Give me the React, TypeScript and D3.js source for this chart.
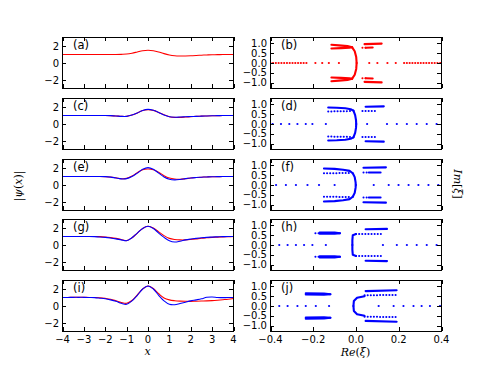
import React from "react";
import * as d3 from "d3";

const W = 491;
const H = 368;

// x grid for |psi(x)| curves
const xGrid = [-4, -3.75, -3.5, -3.25, -3, -2.75, -2.5, -2.25, -2, -1.75, -1.5, -1.25, -1, -0.75, -0.5, -0.25, 0, 0.25, 0.5, 0.75, 1, 1.25, 1.5, 1.75, 2, 2.25, 2.5, 2.75, 3, 3.25, 3.5, 3.75, 4];

const psiA_red = [1, 1, 1, 1, 1, 1, 1, 1, 1, 1, 1, 1.02, 1.05, 1.15, 1.3, 1.45, 1.5, 1.45, 1.3, 1.1, 0.95, 0.86, 0.83, 0.83, 0.85, 0.88, 0.92, 0.95, 0.97, 0.98, 1, 1, 1];

const psiC_red = [1, 1, 1, 1, 1, 1, 1, 1, 1, 0.98, 0.95, 0.9, 0.9, 1.05, 1.3, 1.58, 1.68, 1.6, 1.36, 1.08, 0.86, 0.78, 0.78, 0.82, 0.86, 0.9, 0.93, 0.95, 0.97, 0.98, 1, 1, 1];
const psiC_blue = [1, 1, 1, 1, 1, 1, 1, 1, 1, 0.98, 0.95, 0.9, 0.9, 1.05, 1.3, 1.6, 1.72, 1.62, 1.35, 1.05, 0.85, 0.8, 0.82, 0.85, 0.88, 0.9, 0.93, 0.95, 0.97, 0.98, 1, 1, 1];

const psiE_red = [1, 1, 1, 1, 1, 1, 1, 1, 0.98, 0.94, 0.85, 0.74, 0.78, 1.05, 1.45, 1.8, 1.88, 1.8, 1.5, 1.1, 0.82, 0.7, 0.68, 0.74, 0.82, 0.88, 0.92, 0.95, 0.97, 0.98, 1, 1, 1];
const psiE_blue = [1, 1, 1, 1, 1, 1, 1, 1, 0.98, 0.93, 0.82, 0.72, 0.75, 1.0, 1.4, 1.85, 2.05, 1.85, 1.4, 0.95, 0.68, 0.6, 0.65, 0.75, 0.83, 0.88, 0.92, 0.95, 0.97, 0.98, 1, 1, 1];

const psiG_red = [1, 1, 1, 1, 1, 1, 1, 0.98, 0.94, 0.87, 0.78, 0.65, 0.52, 0.85, 1.4, 1.95, 2.2, 2.0, 1.55, 1.1, 0.78, 0.65, 0.6, 0.6, 0.65, 0.72, 0.8, 0.85, 0.9, 0.93, 0.96, 0.98, 1];
const psiG_blue = [1, 1, 1, 1, 1, 1, 0.98, 0.95, 0.9, 0.82, 0.72, 0.6, 0.5, 0.85, 1.4, 1.95, 2.2, 1.95, 1.4, 0.9, 0.5, 0.35, 0.45, 0.6, 0.7, 0.78, 0.85, 0.9, 0.93, 0.96, 0.98, 1, 1];

const psiI_red = [1, 1, 1.02, 1.02, 1.02, 1.0, 1.0, 0.97, 0.9, 0.8, 0.62, 0.42, 0.32, 0.65, 1.3, 2.0, 2.35, 2.05, 1.45, 0.95, 0.72, 0.62, 0.57, 0.55, 0.55, 0.56, 0.58, 0.6, 0.63, 0.68, 0.74, 0.8, 0.88];
const psiI_blue = [1, 1, 1.02, 1.02, 1.02, 1.0, 0.98, 0.92, 0.85, 0.72, 0.55, 0.32, 0.2, 0.6, 1.25, 2.0, 2.35, 2.0, 1.25, 0.6, 0.2, 0.15, 0.3, 0.45, 0.6, 0.72, 0.85, 1.02, 1.05, 1.0, 0.98, 1, 1];

// spectra: real-axis eigenvalues, dense branches (solid), sparse branches (dotted); upper half, mirrored to lower
const axisB = [-0.4, -0.388, -0.375, -0.362, -0.349, -0.336, -0.323, -0.31, -0.297, -0.284, -0.271, -0.258, -0.245, -0.232, -0.19, -0.158, -0.127, -0.08, 0.062, 0.1, 0.147, 0.186, 0.225, 0.238, 0.251, 0.264, 0.277, 0.29, 0.303, 0.316, 0.329, 0.342, 0.355, 0.368, 0.381, 0.394];
const solidB = [
  [[-0.115, 0.93], [-0.08, 0.9], [-0.04, 0.86], [-0.018, 0.8]],
  [[-0.115, 0.74], [-0.07, 0.76], [-0.03, 0.78], [-0.018, 0.8]],
  [[-0.018, 0.8], [-0.006, 0.6], [0.001, 0.3], [0.003, 0]],
  [[0.04, 0.96], [0.12, 0.99]],
  [[0.045, 0.78], [0.078, 0.79]],
];
const dottedB = [[[0.03, 0.78], [0.045, 0.78]]];

const axisD = [-0.39, -0.351, -0.312, -0.274, -0.235, -0.204, -0.141, 0.052, 0.145, 0.191, 0.238, 0.284, 0.331, 0.377];
const solidD = [
  [[-0.13, 0.84], [-0.09, 0.83], [-0.05, 0.8], [-0.025, 0.75], [-0.012, 0.68]],
  [[-0.012, 0.68], [-0.004, 0.45], [0.0, 0.2], [0.001, 0]],
  [[0.045, 0.88], [0.13, 0.9]],
];
const dottedD = [
  [[-0.13, 0.64], [-0.02, 0.66]],
  [[0.03, 0.66], [0.1, 0.66]],
];

const axisF = [-0.374, -0.328, -0.281, -0.227, -0.173, -0.1, 0.083, 0.153, 0.199, 0.246, 0.292, 0.339, 0.385];
const solidF = [
  [[-0.15, 0.84], [-0.1, 0.82], [-0.06, 0.78], [-0.03, 0.72], [-0.015, 0.6]],
  [[-0.015, 0.6], [-0.006, 0.4], [-0.002, 0.15], [-0.001, 0]],
  [[0.035, 0.88], [0.14, 0.9]],
  [[0.06, 0.64], [0.115, 0.64]],
];
const dottedF = [
  [[-0.15, 0.6], [-0.03, 0.61]],
  [[0.035, 0.64], [0.06, 0.64]],
];

const axisH = [-0.359, -0.32, -0.281, -0.243, -0.204, -0.141, 0.126, 0.191, 0.238, 0.284, 0.331, 0.377];
const solidH = [
  [[-0.17, 0.64], [-0.1, 0.63], [-0.075, 0.6]],
  [[-0.17, 0.57], [-0.1, 0.58], [-0.075, 0.6]],
  [[0.0, 0.56], [-0.015, 0.5], [-0.017, 0.25], [-0.017, 0]],
  [[0.045, 0.8], [0.145, 0.82]],
];
const dottedH = [
  [[-0.19, 0.6], [-0.17, 0.6]],
  [[0.0, 0.56], [0.13, 0.56]],
];

const axisJ = [-0.359, -0.32, -0.274, -0.235, -0.188, -0.126, 0.106, 0.176, 0.222, 0.269, 0.307, 0.346, 0.393];
const solidJ = [
  [[-0.235, 0.65], [-0.15, 0.64], [-0.12, 0.6]],
  [[-0.235, 0.59], [-0.15, 0.58], [-0.12, 0.6]],
  [[0.04, 0.5], [0.005, 0.42], [-0.01, 0.25], [-0.012, 0]],
  [[0.045, 0.76], [0.19, 0.8]],
];
const dottedJ = [[[0.04, 0.55], [0.19, 0.56]]];

const leftYTicks = [-2, 0, 2];
const leftXTicks = [-4, -3, -2, -1, 0, 1, 2, 3, 4];
const rightYTicks = [-1, -0.5, 0, 0.5, 1];
const rightXTicks = [-0.4, -0.2, 0, 0.2, 0.4];

const leftPanels = [
  { label: "(a)", red: psiA_red, blue: null },
  { label: "(c)", red: psiC_red, blue: psiC_blue },
  { label: "(e)", red: psiE_red, blue: psiE_blue },
  { label: "(g)", red: psiG_red, blue: psiG_blue },
  { label: "(i)", red: psiI_red, blue: psiI_blue },
];
const rightPanels = [
  { label: "(b)", color: "#ff0000", axis: axisB, solid: solidB, dotted: dottedB },
  { label: "(d)", color: "#0000ff", axis: axisD, solid: solidD, dotted: dottedD },
  { label: "(f)", color: "#0000ff", axis: axisF, solid: solidF, dotted: dottedF },
  { label: "(h)", color: "#0000ff", axis: axisH, solid: solidH, dotted: dottedH },
  { label: "(j)", color: "#0000ff", axis: axisJ, solid: solidJ, dotted: dottedJ },
];

const PANEL_H = 51;
const LEFT_X0 = 62, LEFT_X1 = 233;
const RIGHT_X0 = 270, RIGHT_X1 = 441;
const rowTop = (i: number) => Math.round(37 + i * 60.75);

const FONT = "DejaVu Sans, sans-serif";
const MATH = "DejaVu Serif, serif";
const fmtMinus = (s: string) => s.replace("-", "\u2212");

function Frame({ x0, x1, y0, y1, xs, ys, xScale, yScale }: any) {
  const L = 4;
  return (
    <g stroke="#000" strokeWidth={1} fill="none">
      {xs.map((t: number) => {
        const x = Math.round(xScale(t)) + 0.5;
        return (
          <g key={"x" + t}>
            <line x1={x} x2={x} y1={y1} y2={y1 - L} />
            <line x1={x} x2={x} y1={y0} y2={y0 + L} />
          </g>
        );
      })}
      {ys.map((t: number) => {
        const y = Math.round(yScale(t)) + 0.5;
        return (
          <g key={"y" + t}>
            <line x1={x0} x2={x0 + L} y1={y} y2={y} />
            <line x1={x1} x2={x1 - L} y1={y} y2={y} />
          </g>
        );
      })}
      <rect x={x0 + 0.5} y={y0 + 0.5} width={x1 - x0} height={y1 - y0} />
    </g>
  );
}

function LeftPanel({ i, p, last }: any) {
  const y0 = rowTop(i);
  const y1 = y0 + PANEL_H;
  const xs = d3.scaleLinear().domain([-4, 4]).range([LEFT_X0 + 0.5, LEFT_X1 + 0.5]);
  const ys = d3.scaleLinear().domain([-3, 3]).range([y1 + 0.5, y0 + 0.5]);
  const line = d3
    .line<number>()
    .x((_, k) => xs(xGrid[k]))
    .y((d) => ys(d))
    .curve(d3.curveCatmullRom.alpha(0.5));
  const clip = "clipL" + i;
  return (
    <g>
      <clipPath id={clip}>
        <rect x={LEFT_X0} y={y0} width={LEFT_X1 - LEFT_X0 + 1} height={PANEL_H + 1} />
      </clipPath>
      <g clipPath={`url(#${clip})`} fill="none" strokeWidth={1.1}>
        <path d={line(p.red) || ""} stroke="#ff0000" />
        {p.blue && <path d={line(p.blue) || ""} stroke="#0000ff" />}
      </g>
      <Frame x0={LEFT_X0} x1={LEFT_X1} y0={y0} y1={y1} xs={leftXTicks} ys={leftYTicks} xScale={xs} yScale={ys} />
      <text x={LEFT_X0 + 11} y={y0 + 12} fontFamily={FONT} fontSize={11.5}>
        {p.label}
      </text>
      {leftYTicks.map((t) => (
        <text key={t} x={LEFT_X0 - 3} y={ys(t) + 3.6} textAnchor="end" fontFamily={FONT} fontSize={10}>
          {fmtMinus(String(t))}
        </text>
      ))}
      {last &&
        leftXTicks.map((t) => (
          <text key={t} x={xs(t)} y={y1 + 12} textAnchor="middle" fontFamily={FONT} fontSize={10}>
            {fmtMinus(String(t))}
          </text>
        ))}
    </g>
  );
}

function RightPanel({ i, p, last }: any) {
  const y0 = rowTop(i);
  const y1 = y0 + PANEL_H;
  const xs = d3.scaleLinear().domain([-0.4, 0.4]).range([RIGHT_X0 + 0.5, RIGHT_X1 + 0.5]);
  const ys = d3.scaleLinear().domain([-1.3, 1.3]).range([y1 + 0.5, y0 + 0.5]);
  const line = d3
    .line<number[]>()
    .x((d) => xs(d[0]))
    .y((d) => ys(d[1]));
  const mirror = (pts: number[][]) => pts.map((d) => [d[0], -d[1]]);
  const clip = "clipR" + i;
  return (
    <g>
      <clipPath id={clip}>
        <rect x={RIGHT_X0} y={y0} width={RIGHT_X1 - RIGHT_X0 + 1} height={PANEL_H + 1} />
      </clipPath>
      <g clipPath={`url(#${clip})`}>
        {p.axis.map((re: number, k: number) => (
          <circle key={k} cx={xs(re)} cy={ys(0)} r={1.1} fill={p.color} />
        ))}
        <g fill="none" stroke={p.color} strokeLinecap="round" strokeLinejoin="round">
          {p.solid.map((b: number[][], k: number) => (
            <g key={"s" + k} strokeWidth={2.1}>
              <path d={line(b) || ""} />
              <path d={line(mirror(b)) || ""} />
            </g>
          ))}
          {p.dotted.map((b: number[][], k: number) => (
            <g key={"d" + k} strokeWidth={2} strokeDasharray="0.1,3">
              <path d={line(b) || ""} />
              <path d={line(mirror(b)) || ""} />
            </g>
          ))}
        </g>
      </g>
      <Frame x0={RIGHT_X0} x1={RIGHT_X1} y0={y0} y1={y1} xs={rightXTicks} ys={rightYTicks} xScale={xs} yScale={ys} />
      <text x={RIGHT_X0 + 11} y={y0 + 12} fontFamily={FONT} fontSize={11.5}>
        {p.label}
      </text>
      {rightYTicks.map((t) => (
        <text key={t} x={RIGHT_X0 - 3} y={ys(t) + 3.6} textAnchor="end" fontFamily={FONT} fontSize={10}>
          {fmtMinus(t.toFixed(1))}
        </text>
      ))}
      {last &&
        rightXTicks.map((t) => (
          <text key={t} x={xs(t)} y={y1 + 12} textAnchor="middle" fontFamily={FONT} fontSize={10}>
            {fmtMinus(t.toFixed(1))}
          </text>
        ))}
    </g>
  );
}

export default function App() {
  const lastBottom = rowTop(4) + PANEL_H;
  return (
    <svg
      width={W}
      height={H}
      viewBox={`0 0 ${W} ${H}`}
      style={{ position: "absolute", left: 0, top: 0, background: "#fff" }}
    >
      <rect x={0} y={0} width={W} height={H} fill="#fff" />
      {leftPanels.map((p, i) => (
        <LeftPanel key={i} i={i} p={p} last={i === 4} />
      ))}
      {rightPanels.map((p, i) => (
        <RightPanel key={i} i={i} p={p} last={i === 4} />
      ))}
      <text x={(LEFT_X0 + LEFT_X1) / 2} y={lastBottom + 24} textAnchor="middle" fontFamily={MATH} fontStyle="italic" fontSize={11}>
        x
      </text>
      <text x={(RIGHT_X0 + RIGHT_X1) / 2} y={lastBottom + 25} textAnchor="middle" fontFamily={MATH} fontSize={11}>
        <tspan fontStyle="italic">Re</tspan>(<tspan fontStyle="italic">ξ</tspan>)
      </text>
      <text transform={`translate(22, 186) rotate(-90)`} textAnchor="middle" fontFamily={MATH} fontSize={11}>
        |<tspan fontStyle="italic">ψ</tspan>(<tspan fontStyle="italic">x</tspan>)|
      </text>
      <text transform={`translate(454, 184) rotate(90)`} textAnchor="middle" fontFamily={MATH} fontSize={11}>
        <tspan fontStyle="italic">Im</tspan>[<tspan fontStyle="italic">ξ</tspan>]
      </text>
    </svg>
  );
}
